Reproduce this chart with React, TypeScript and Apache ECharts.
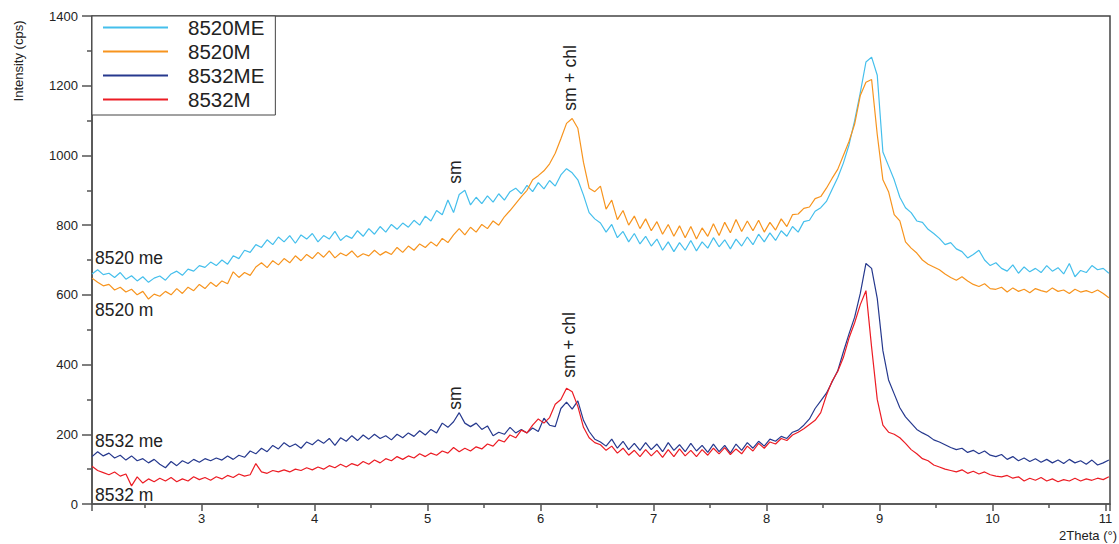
import { useEffect, useRef } from "react";
import * as echarts from "echarts";

// x positions: X_START + i * X_STEP (2theta, degrees)
const X_START = 2.03;
const X_STEP = 0.05;

const seriesNames = ["8520ME", "8520M", "8532ME", "8532M"];
const seriesColors = ["#45BFEC", "#F7941E", "#26398E", "#EC1C24"];

const v8520ME = [
  660, 672, 658, 662, 650, 664, 645, 655, 640, 652,
  636, 648, 654, 642, 660, 668, 656, 674, 668, 684,
  679, 694, 684, 700, 688, 712, 704, 728, 722, 744,
  736, 758, 744, 766, 752, 770, 748, 772, 760, 776,
  752, 770, 760, 782, 756, 770, 762, 784, 768, 790,
  774, 796, 780, 802, 788, 806, 794, 814, 800, 826,
  812, 842, 830, 872, 836, 888, 900, 858, 880, 862,
  884, 866, 890, 872, 896, 906, 890, 914, 896, 922,
  904, 928, 912, 944, 962, 950, 930, 886, 836, 818,
  806, 780, 802, 764, 782, 752, 776, 746, 768, 740,
  760, 728, 752, 724, 750, 728, 756, 726, 752, 734,
  764, 738, 758, 732, 760, 740, 766, 744, 774, 752,
  778, 756, 784, 768, 796, 780, 810, 814, 840, 850,
  868, 902, 936, 978, 1030, 1100, 1180, 1268, 1282, 1230,
  1010, 970, 930, 880, 850, 836, 812, 808, 788, 776,
  762, 744, 750, 732, 724, 706, 716, 728, 700, 684,
  692, 676, 668, 686, 662, 680, 666, 676, 664, 684,
  668, 678, 660, 690, 652, 670, 664, 684, 672, 676,
  662,
];

const v8520M = [
  648, 636, 626, 630, 614, 622, 608, 616, 600, 610,
  588, 602, 596, 610, 600, 618, 604, 622, 612, 630,
  618, 636, 624, 640, 632, 666, 650, 664, 656, 680,
  692, 678, 698, 686, 704, 692, 712, 698, 716, 704,
  722, 708, 726, 706, 720, 712, 726, 708, 718, 712,
  728, 714, 724, 716, 736, 722, 740, 728, 746, 736,
  752, 740, 762, 750, 772, 790, 772, 794, 780, 802,
  790, 812, 800, 824, 842, 862, 882, 900, 930, 942,
  956, 976, 1006, 1048, 1092, 1106, 1078, 980, 906, 896,
  912, 846, 872, 816, 842, 800, 826, 790, 818, 784,
  810, 774, 802, 768, 798, 764, 796, 760, 792, 768,
  804, 770, 808, 778, 816, 782, 812, 784, 814, 780,
  808, 786, 818, 796, 830, 832, 848, 852, 876, 882,
  906, 934, 960, 1000, 1040, 1090, 1172, 1210, 1218, 1060,
  930, 896, 830, 812, 752, 734, 720, 700, 688, 680,
  672, 660, 650, 642, 652, 640, 630, 624, 632, 618,
  616, 622, 608, 620, 610, 616, 606, 618, 612, 608,
  620, 610, 614, 604, 616, 608, 612, 606, 614, 604,
  592,
];

const v8532ME = [
  136, 150, 138, 146, 132, 140, 126, 138, 124, 130,
  118, 128, 114, 104, 122, 110, 124, 116, 128, 120,
  130, 124, 132, 126, 138, 128, 140, 134, 152, 144,
  160, 150, 168, 158, 176, 164, 172, 160, 178, 170,
  184, 174, 188, 168, 190, 180, 196, 182, 198, 186,
  200, 188, 196, 184, 200, 190, 204, 194, 210, 198,
  214, 204, 232, 220, 236, 262, 232, 222, 232, 214,
  224, 196, 206, 200, 220, 204, 214, 204, 218, 208,
  246, 226, 222, 274, 292, 272, 296, 240, 208, 186,
  178, 166, 186, 160, 180, 156, 174, 154, 176, 156,
  172, 150, 176, 154, 170, 150, 174, 152, 168, 148,
  172, 150, 168, 146, 172, 154, 176, 160, 180, 166,
  186, 180, 194, 188, 206, 212, 226, 244, 274, 296,
  318, 350, 382, 436, 488, 536, 604, 690, 676, 590,
  440, 356, 316, 276, 250, 232, 214, 204, 196, 184,
  178, 170, 162, 156, 160, 148, 154, 144, 152, 140,
  136, 142, 128, 136, 124, 132, 122, 130, 120, 128,
  118, 126, 116, 128, 118, 124, 114, 126, 112, 118,
  126,
];

const v8532M = [
  108, 96, 90, 84, 92, 80, 86, 52, 78, 60,
  72, 64, 74, 66, 76, 64, 72, 66, 78, 70,
  76, 68, 78, 72, 82, 76, 86, 80, 84, 116,
  92, 88, 96, 92, 98, 92, 100, 96, 104, 98,
  106, 100, 110, 104, 114, 106, 116, 110, 122, 114,
  126, 118, 130, 124, 136, 128, 138, 132, 144, 136,
  146, 140, 152, 146, 162, 150, 160, 152, 164, 158,
  172, 166, 184, 178, 198, 190, 212, 204, 226, 244,
  232, 248, 286, 300, 332, 322, 280, 220, 190, 176,
  170, 154, 166, 146, 160, 140, 154, 136, 156, 138,
  154, 134, 156, 136, 158, 138, 154, 136, 156, 140,
  160, 144, 162, 142, 158, 144, 166, 152, 174, 160,
  178, 172, 188, 182, 198, 206, 216, 228, 240, 262,
  312, 352, 380, 420, 476, 520, 572, 612, 450, 300,
  226, 206, 200, 190, 174, 156, 144, 130, 124, 112,
  106, 100, 96, 92, 98, 88, 94, 86, 92, 84,
  80, 78, 82, 74, 78, 66, 74, 68, 76, 66,
  72, 64, 70, 66, 74, 66, 72, 68, 74, 70,
  78,
];

const seriesValues = [v8520ME, v8520M, v8532ME, v8532M];

const sampleLabels = ["8520 me", "8520 m", "8532 me", "8532 m"];
const peakLabels = ["sm", "sm + chl", "sm", "sm + chl"];
const yAxisTitle = "Intensity (cps)";
const xAxisTitle = "2Theta (°)";

const FONT = "'Liberation Sans', Arial, Helvetica, sans-serif";

export default function App() {
  const ref = useRef<HTMLDivElement>(null);

  useEffect(() => {
    if (!ref.current) return;
    const chart = echarts.init(ref.current, null, { renderer: "svg" });

    const series = seriesNames.map((name, k) => ({
      name,
      type: "line",
      symbol: "none",
      clip: true,
      data: seriesValues[k].map((v, i) => [+(X_START + i * X_STEP).toFixed(2), v]),
      lineStyle: { width: 1.2, color: seriesColors[k] },
      itemStyle: { color: seriesColors[k] },
    }));

    const sidePos = [
      [95, 258],
      [95, 310],
      [95, 441],
      [95, 495],
    ];
    const peakPos = [
      [455, 172],
      [570, 78],
      [455, 398],
      [569, 345],
    ];

    const textEl = (text: string, x: number, y: number, size: number, align: string, rot = 0) => ({
      type: "text",
      x,
      y,
      rotation: rot,
      style: {
        text,
        fill: "#222",
        font: `${size}px ${FONT}`,
        textAlign: align,
        textVerticalAlign: "middle",
        align,
        verticalAlign: "middle",
      },
      z: 100,
    });

    const graphic: any[] = [];
    sampleLabels.forEach((t, k) => graphic.push(textEl(t, sidePos[k][0], sidePos[k][1], 17.5, "left")));
    peakLabels.forEach((t, k) => graphic.push(textEl(t, peakPos[k][0], peakPos[k][1], 17.5, "center", Math.PI / 2)));
    graphic.push(textEl(yAxisTitle, 18, 61, 13, "center", Math.PI / 2));
    graphic.push(textEl(xAxisTitle, 1117, 535, 13, "right"));

    const axisColor = "#555";

    chart.setOption({
      animation: false,
      textStyle: { fontFamily: FONT },
      grid: {
        left: 92,
        top: 16,
        right: 9,
        bottom: 40,
        show: true,
        borderColor: "#444",
        borderWidth: 1.5,
      },
      legend: {
        orient: "vertical",
        left: 92,
        top: 16,
        padding: [1, 11, 5, 11],
        icon: "rect",
        itemWidth: 65,
        itemHeight: 2,
        itemGap: 3,
        backgroundColor: "#fff",
        borderColor: "#444",
        borderWidth: 1,
        textStyle: {
          fontSize: 20.5,
          color: "#222",
          lineHeight: 20,
          padding: [0, 0, 0, 15],
          width: 76,
          fontFamily: FONT,
        },
        data: seriesNames,
      },
      xAxis: {
        type: "value",
        min: 2.03,
        max: 11.04,
        splitNumber: 9,
        minInterval: 1,
        maxInterval: 1,
        axisLine: { show: true, onZero: false, lineStyle: { color: axisColor, width: 1.5 } },
        axisTick: { show: true, length: 7, lineStyle: { color: axisColor, width: 1.5 } },
        minorTick: { show: true, splitNumber: 2, length: 4, lineStyle: { color: axisColor, width: 1.5 } },
        axisLabel: {
          showMinLabel: false,
          showMaxLabel: false,
          margin: 8,
          fontSize: 13,
          color: "#222",
          fontFamily: FONT,
        },
        splitLine: { show: false },
        minorSplitLine: { show: false },
      },
      yAxis: {
        type: "value",
        min: 0,
        max: 1400,
        interval: 200,
        axisLine: { show: true, onZero: false, lineStyle: { color: axisColor, width: 1.5 } },
        axisTick: { show: true, length: 10, lineStyle: { color: axisColor, width: 1.5 } },
        minorTick: { show: true, splitNumber: 2, length: 5, lineStyle: { color: axisColor, width: 1.5 } },
        axisLabel: {
          margin: 14,
          fontSize: 13,
          color: "#222",
          fontFamily: FONT,
          formatter: (v: number) => String(v),
        },
        splitLine: { show: false },
        minorSplitLine: { show: false },
      },
      series,
      graphic,
    });

    return () => chart.dispose();
  }, []);

  return (
    <div
      ref={ref}
      style={{ position: "fixed", left: 0, top: 0, width: 1119, height: 544, background: "#fff" }}
    />
  );
}
